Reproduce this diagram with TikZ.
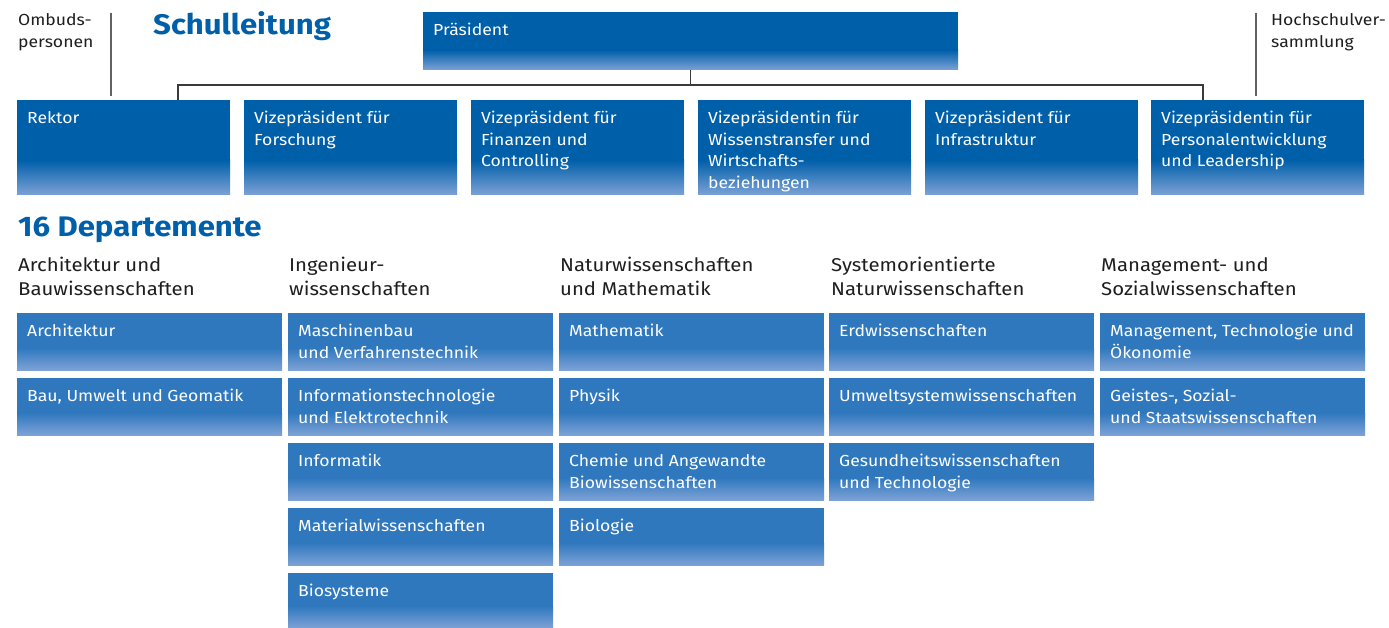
\documentclass[tikz,border=0pt]{standalone}
\usepackage{fontspec}
\setmainfont{Fira Sans}[FakeStretch=1.1]
\usetikzlibrary{calc}
\definecolor{topblue}{HTML}{005FA9}
\definecolor{deptblue}{HTML}{2F78BE}
\definecolor{lightblue}{HTML}{7DA2D6}
\definecolor{titleblue}{HTML}{005FA9}
\definecolor{txt}{HTML}{1E1E1E}
\definecolor{linec}{HTML}{3A3A3A}
\tikzset{
  x=1pt, y=1pt,
  gbox/.style n args={3}{draw=none, rectangle, anchor=north west, inner sep=0pt, outer sep=0pt,
    minimum width=#1, minimum height=#2,
    path picture={
      \fill[#3] (path picture bounding box.north west) rectangle ($(path picture bounding box.south east)+(0,\gradh)$);
      \shade[top color=#3, bottom color=lightblue] ($(path picture bounding box.south west)+(0,\gradh)$) rectangle (path picture bounding box.south east);
    }},
  lbl/.style={anchor=north west, inner sep=0pt, xshift=10pt, yshift=-11pt, align=left, text=white,
    font=\fontsize{16}{21.5}\selectfont},
  topbox/.style={gbox={213pt}{95pt}{topblue}},
  presbox/.style={gbox={535pt}{58pt}{topblue}},
  deptbox/.style={gbox={265pt}{57pt}{deptblue}},
  lastbox/.style={gbox={265pt}{55pt}{deptblue}},
  head/.style={anchor=north west, inner sep=0pt, align=left, text=txt, font=\fontsize{18.5}{24}\selectfont},
  side/.style={anchor=north west, inner sep=0pt, align=left, text=txt, font=\fontsize{16}{22}\selectfont},
  title/.style={anchor=west, inner sep=0pt, text=titleblue, font=\fontsize{28.3}{30}\selectfont\bfseries},
  conn/.style={draw=linec, line width=1.1pt},
  sideline/.style={draw=linec!80, line width=1.1pt},
}
\def\gradh{35pt}
\newcommand\tb[4]{\node[#1, label={[lbl]north west:#4}] (#2) at #3 {};}
\begin{document}
\begin{tikzpicture}
\useasboundingbox (0,0) rectangle (1389,-628);
% titles
\node[title] (schul) at (153,-26) {Schulleitung};
\node[title] (dep) at (18,-230) {16 Departemente};
\node[side] (ombuds) at (18,-13) {Ombuds-\\personen};
\node[side] (hoch) at (1271,-13) {Hochschulver-\\sammlung};
\coordinate (om1) at (111,-13); \coordinate (om2) at (111,-96);
\coordinate (ho1) at (1256,-13); \coordinate (ho2) at (1256,-96);
\draw[sideline] (om1) -- (om2);
\draw[sideline] (ho1) -- (ho2);
% Schulleitung
\def\gradh{20pt}
\tb{presbox}{pres}{(423,-12)}{Präsident}
\def\gradh{35pt}
\tb{topbox}{rektor}{(17,-100)}{Rektor}
\tb{topbox}{vfo}{(244,-100)}{Vizepräsident für\\Forschung}
\tb{topbox}{vfi}{(471,-100)}{Vizepräsident für\\Finanzen und\\Controlling}
\tb{topbox}{vwi}{(698,-100)}{Vizepräsidentin für\\Wissenstransfer und\\Wirtschafts-\\beziehungen}
\tb{topbox}{vin}{(925,-100)}{Vizepräsident für\\Infrastruktur}
\tb{topbox}{vpe}{(1151,-100)}{Vizepräsidentin für\\Personalentwicklung\\und Leadership}
\coordinate (jl) at (178,-85); \coordinate (jr) at (1203,-85);
\draw[conn] (pres.south) -- (pres.south |- jl);
\draw[conn] (rektor.north -| jl) -- (jl) -- (jr) -- (vpe.north -| jr);
% Departemente headings
\node[head] (h1) at (18,-257) {Architektur und\\Bauwissenschaften};
\node[head] (h2) at (289,-257) {Ingenieur-\\wissenschaften};
\node[head] (h3) at (560,-257) {Naturwissenschaften\\und Mathematik};
\node[head] (h4) at (831,-257) {Systemorientierte\\Naturwissenschaften};
\node[head] (h5) at (1101,-257) {Management- und\\Sozialwissenschaften};
\def\gradh{22pt}
\tb{deptbox}{a1}{(17,-313)}{Architektur}
\tb{deptbox}{a2}{(17,-378)}{Bau, Umwelt und Geomatik}
\tb{deptbox}{b1}{(288,-313)}{Maschinenbau\\und Verfahrenstechnik}
\tb{deptbox}{b2}{(288,-378)}{Informationstechnologie\\und Elektrotechnik}
\tb{deptbox}{b3}{(288,-443)}{Informatik}
\tb{deptbox}{b4}{(288,-508)}{Materialwissenschaften}
\tb{lastbox}{b5}{(288,-573)}{Biosysteme}
\tb{deptbox}{c1}{(559,-313)}{Mathematik}
\tb{deptbox}{c2}{(559,-378)}{Physik}
\tb{deptbox}{c3}{(559,-443)}{Chemie und Angewandte\\Biowissenschaften}
\tb{deptbox}{c4}{(559,-508)}{Biologie}
\tb{deptbox}{d1}{(829,-313)}{Erdwissenschaften}
\tb{deptbox}{d2}{(829,-378)}{Umweltsystemwissenschaften}
\tb{deptbox}{d3}{(829,-443)}{Gesundheitswissenschaften\\und Technologie}
\tb{deptbox}{e1}{(1100,-313)}{Management, Technologie und\\Ökonomie}
\tb{deptbox}{e2}{(1100,-378)}{Geistes-, Sozial-\\und Staatswissenschaften}
\end{tikzpicture}
\end{document}
